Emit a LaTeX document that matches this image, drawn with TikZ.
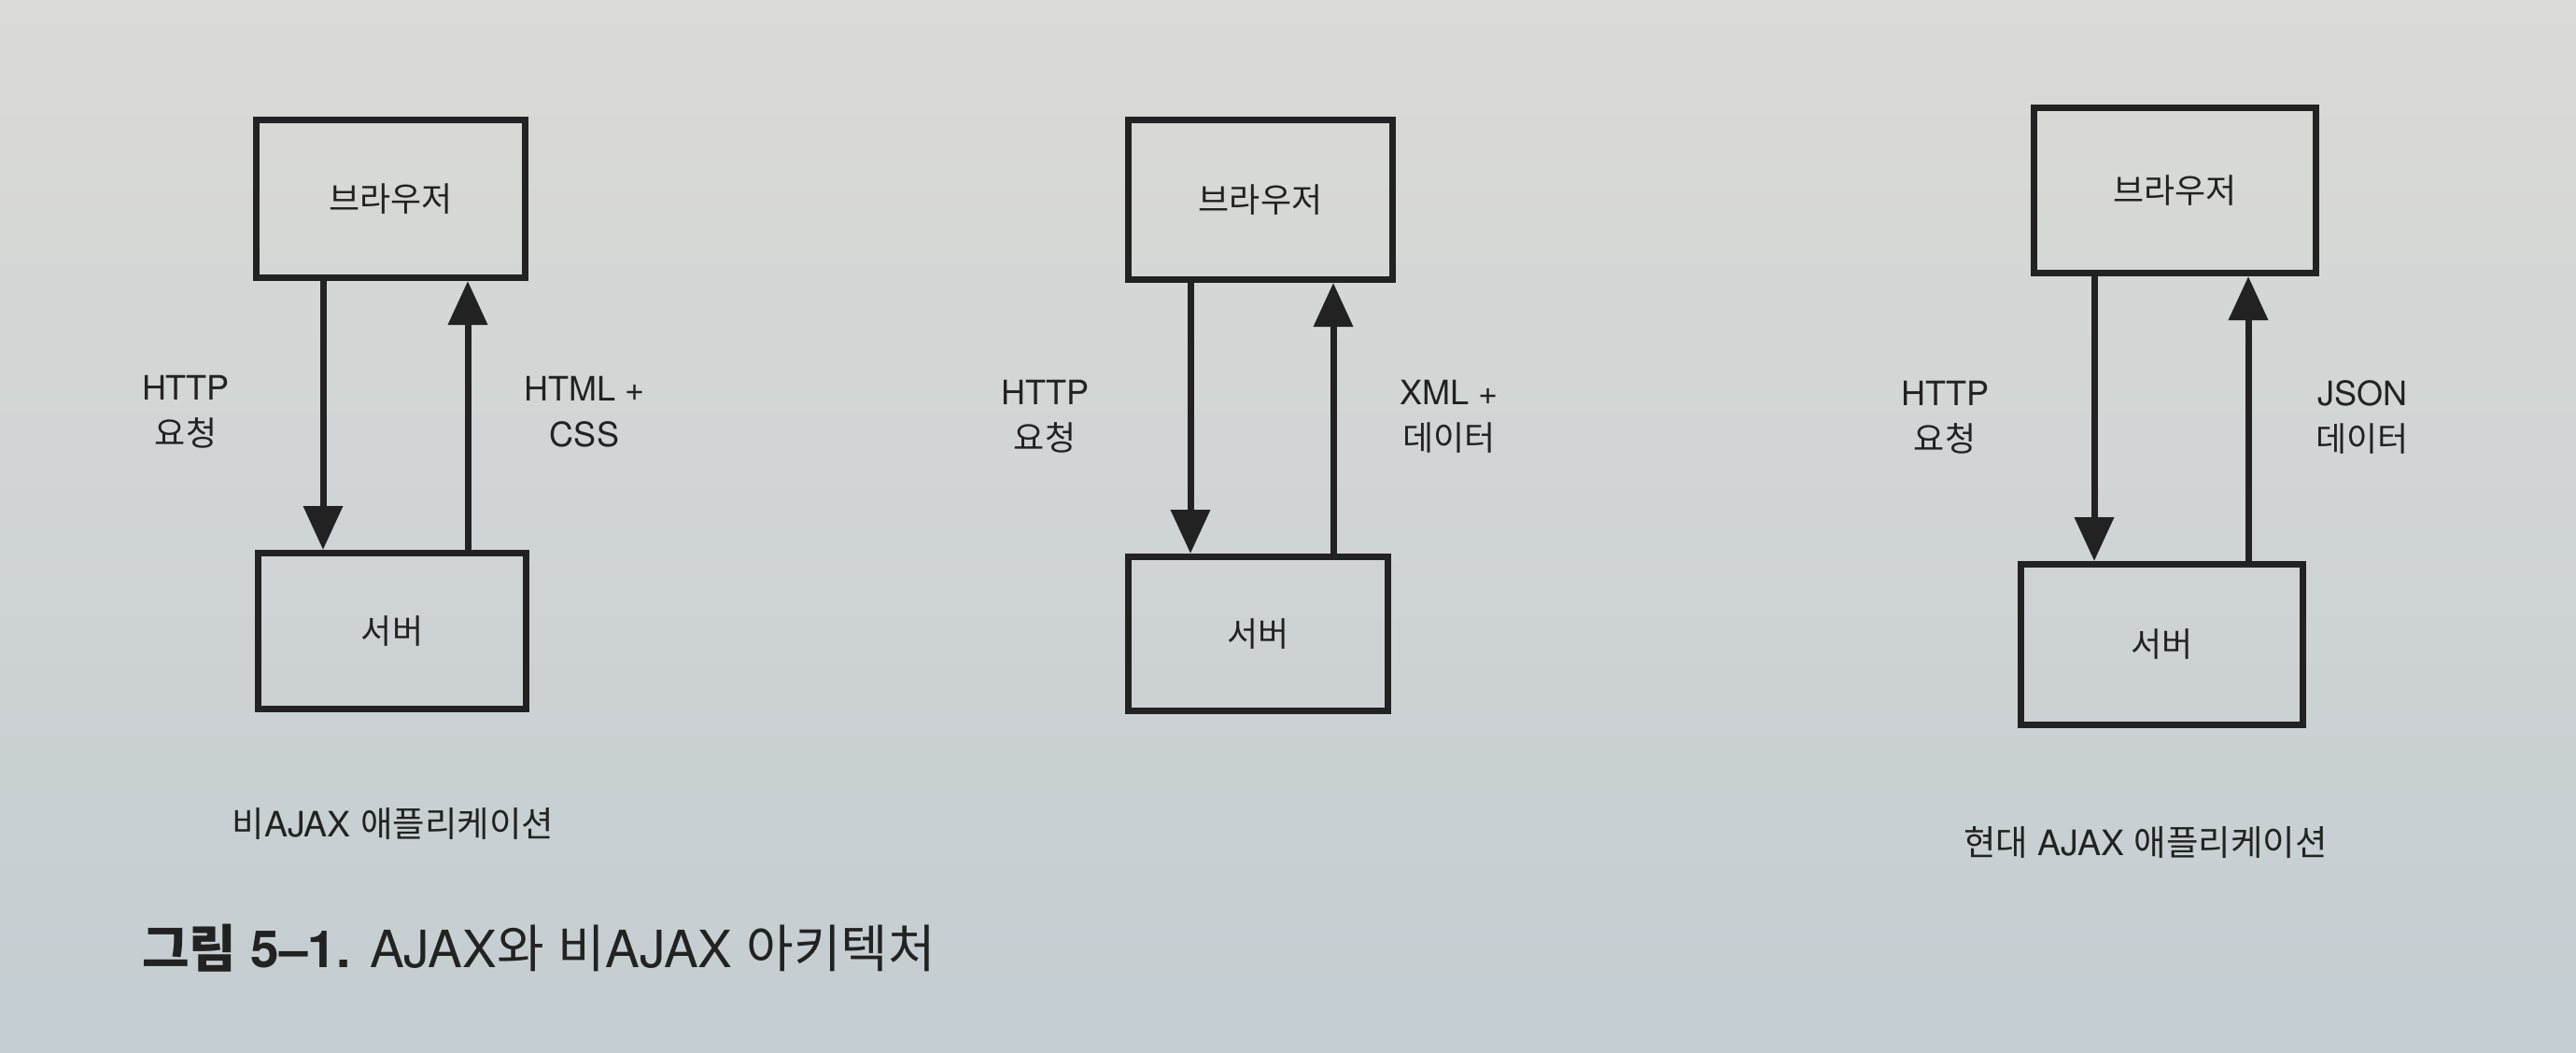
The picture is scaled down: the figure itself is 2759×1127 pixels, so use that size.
\documentclass[tikz,border=0pt]{standalone}
\usepackage{fontspec}
\setmainfont{TeX Gyre Heros}
\newfontfamily\krfont{Noto Sans CJK KR}
\usetikzlibrary{arrows.meta}
\definecolor{ink}{RGB}{34,34,34}
\definecolor{papertop}{RGB}{219,219,215}
\definecolor{paperbot}{RGB}{196,205,210}
\newcommand\diafs{\fontsize{36}{49}\selectfont}
\newcommand\subfs{\fontsize{37.5}{49}\selectfont}
\newcommand\capfs{\fontsize{55}{62}\selectfont}
\begin{document}
\begin{tikzpicture}[x=1pt,y=-1pt,
  box/.style={draw=ink, line width=7pt, inner sep=0pt, text=ink, font=\diafs\krfont},
  arr/.style={draw=ink, line width=7pt, -{Triangle[width=41pt,length=47pt]}},
  lbl/.style={align=center, text=ink, font=\diafs, inner sep=0pt},
  sub/.style={text=ink, font=\subfs, inner sep=0pt}]
\shade[top color=papertop, bottom color=paperbot] (0,0) rectangle (2759,1127);
\useasboundingbox (0,0) rectangle (2759,1127);

% column 1
\node[box, minimum width=288pt, minimum height=169pt] (b1) at (418.5,213) {브라우저};
\node[box, minimum width=287pt, minimum height=167pt] (s1) at (420,676) {서버};
\coordinate (x1d) at (346,0);
\coordinate (x1u) at (501,0);
\draw[arr] (b1.south -| x1d) -- (s1.north -| x1d);
\draw[arr] (s1.north -| x1u) -- (b1.south -| x1u);
\node[lbl] (l1a) at (199,441) {HTTP\\{\krfont 요청}};
\node[lbl] (l1b) at (626,441) {HTML +\\CSS};
\node[sub] (c1) at (421,882) {{\krfont 비}AJAX {\krfont 애플리케이션}};

% column 2
\node[box, minimum width=283pt, minimum height=171pt] (b2) at (1350,214) {브라우저};
\node[box, minimum width=278pt, minimum height=165pt] (s2) at (1347.5,679) {서버};
\coordinate (x2d) at (1275,0);
\coordinate (x2u) at (1428,0);
\draw[arr] (b2.south -| x2d) -- (s2.north -| x2d);
\draw[arr] (s2.north -| x2u) -- (b2.south -| x2u);
\node[lbl] (l2a) at (1119,446) {HTTP\\{\krfont 요청}};
\node[lbl] (l2b) at (1552,446) {XML +\\{\krfont 데이터}};

% column 3
\node[box, minimum width=302pt, minimum height=177pt] (b3) at (2329.5,204) {브라우저};
\node[box, minimum width=302pt, minimum height=172pt] (s3) at (2315.5,690.5) {서버};
\coordinate (x3d) at (2243,0);
\coordinate (x3u) at (2408,0);
\draw[arr] (b3.south -| x3d) -- (s3.north -| x3d);
\draw[arr] (s3.north -| x3u) -- (b3.south -| x3u);
\node[lbl] (l3a) at (2083,447) {HTTP\\{\krfont 요청}};
\node[lbl] (l3b) at (2530,447) {JSON\\{\krfont 데이터}};
\node[sub] (c3) at (2298,902) {{\krfont 현대} AJAX {\krfont 애플리케이션}};

% figure caption
\node[anchor=west, text=ink, font=\capfs, inner sep=0pt] (cap) at (152,1016)
  {{\krfont\bfseries 그림} \textbf{5--1.} AJAX{\krfont 와} {\krfont 비}AJAX {\krfont 아키텍처}};
\end{tikzpicture}
\end{document}
